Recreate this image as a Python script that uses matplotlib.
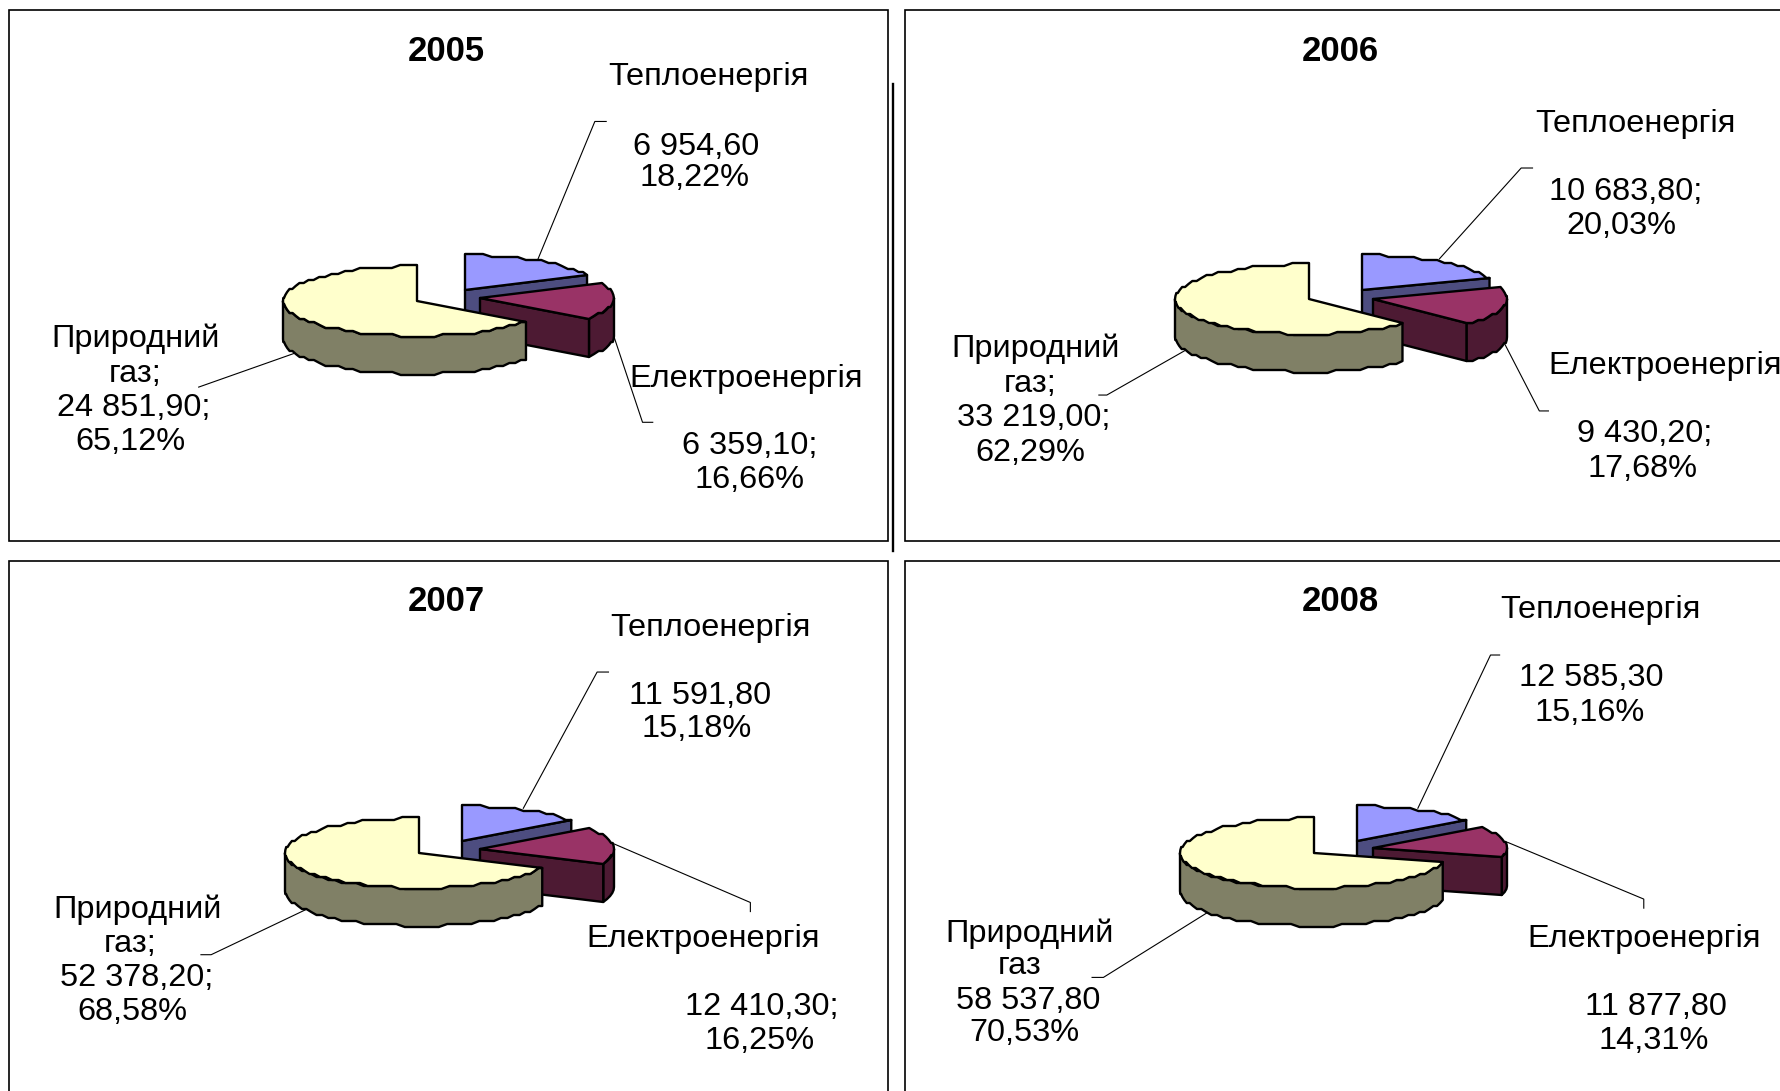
import numpy as np
import matplotlib
matplotlib.use("Agg")
import matplotlib.pyplot as plt
from matplotlib.patches import Polygon, Rectangle

plt.rcParams['font.family'] = ['Liberation Sans', 'DejaVu Sans']

years = ["2005", "2006", "2007", "2008"]
heat_values = [6954.60, 10683.80, 11591.80, 12585.30]
elec_values = [6359.10, 9430.20, 12410.30, 11877.80]
gas_values = [24851.90, 33219.00, 52378.20, 58537.80]

heat_name = "Теплоенергія"
elec_name = "Електроенергія"

heat_labels = [["6 954,60", "18,22%"], ["10 683,80;", "20,03%"], ["11 591,80", "15,18%"], ["12 585,30", "15,16%"]]
elec_labels = [["6 359,10;", "16,66%"], ["9 430,20;", "17,68%"], ["12 410,30;", "16,25%"], ["11 877,80", "14,31%"]]
gas_labels = [["Природний", "газ;", "24 851,90;", "65,12%"],
              ["Природний", "газ;", "33 219,00;", "62,29%"],
              ["Природний", "газ;", "52 378,20;", "68,58%"],
              ["Природний", "газ", "58 537,80", "70,53%"]]

# colours: (top, side)
heat_col = ("#9999FF", "#4D4D80")
elec_col = ("#993366", "#4D1A33")
gas_col = ("#FFFFCC", "#808066")

W, H = 1780, 1091
R_X, R_Y, DEPTH = 134, 35, 38

# apex of each slice per panel, px in the full image
gas_apex = [(417, 301), (1309, 299), (419, 853), (1314, 853)]
heat_apex = [(465, 290), (1362, 290), (462, 841), (1357, 841)]
elec_apex = [(480, 298), (1373, 299), (480, 849), (1373, 848)]

# text and leader positions were read on the 1568 wide view
K = W / 1568
title_pos = [(393, 43), (1181, 43), (393, 528), (1181, 528)]
heat_name_pos = [(624, 66), (1441, 107), (626, 551), (1410, 535)]
elec_name_pos = [(657, 332), (1467, 320), (619, 825), (1448, 825)]
heat_text_pos = [[(613, 127), (612, 155)], [(1432, 167), (1428, 197)], [(617, 611), (614, 640)], [(1402, 595), (1400, 626)]]
elec_text_pos = [[(660, 391), (660, 421)], [(1449, 380), (1447, 411)], [(671, 885), (669, 915)], [(1459, 885), (1457, 915)]]
gas_text_pos = [[(119, 296), (119, 327), (118, 357), (115, 387)],
                [(912, 305), (907, 336), (911, 366), (908, 397)],
                [(121, 799), (115, 829), (120, 859), (117, 889)],
                [(907, 820), (898, 849), (906, 880), (902, 908)]]
heat_leaders = [[(474, 228), (524, 107), (534, 107)], [(1268, 228), (1340, 148), (1350, 148)],
                [(461, 712), (526, 592), (536, 592)], [(1249, 712), (1313, 577), (1321, 577)]]
elec_leaders = [[(541, 297), (566, 372), (575, 372)], [(1325, 302), (1356, 362), (1364, 362)],
                [(540, 743), (661, 795), (661, 803)], [(1328, 742), (1448, 792), (1448, 800)]]
gas_leaders = [[(175, 341), (260, 311)], [(968, 348), (975, 348), (1047, 307)],
               [(177, 841), (186, 841), (270, 801)], [(962, 861), (972, 861), (1065, 803)]]

FS = 23.4
TITLE_FS = 25
TEXT_DY = 2.5  # px, text sat a bit high
EDGE = 1.7


def arc(cx, cy, a0, a1, step=3.0):
    # scalloped ellipse edge, angles clockwise from 12 o'clock
    n = max(int(abs(a1 - a0) / 3.5), 2)
    t = np.radians(np.linspace(a0, a1, n))
    x = cx + R_X * np.sin(t)
    y = np.round(-R_Y * np.cos(t) / step) * step + cy
    return np.column_stack([x, y])


def face(ax, pts, col):
    ax.add_patch(Polygon(pts, closed=True, facecolor=col, edgecolor="black", lw=EDGE, joinstyle="round"))


def extrude(pts):
    return np.vstack([pts, (pts + [0, DEPTH])[::-1]])


def draw_pie(ax, i):
    total = heat_values[i] + elec_values[i] + gas_values[i]
    a1 = 360 * heat_values[i] / total
    a2 = a1 + 360 * elec_values[i] / total

    # heat slice, only its cut face shows
    cx, cy = heat_apex[i]
    outer = arc(cx, cy, 0, a1)
    face(ax, extrude(np.array([[cx, cy], outer[-1]])), heat_col[1])
    face(ax, np.vstack([[cx, cy], outer]), heat_col[0])

    # electricity slice
    cx, cy = elec_apex[i]
    outer = arc(cx, cy, a1, a2)
    face(ax, extrude(arc(cx, cy, max(a1, 90), a2)), elec_col[1])
    face(ax, extrude(np.array([[cx, cy], outer[-1]])), elec_col[1])
    face(ax, np.vstack([[cx, cy], outer]), elec_col[0])

    # gas slice on top of the others
    cx, cy = gas_apex[i]
    face(ax, extrude(arc(cx, cy, a2, 270)), gas_col[1])
    face(ax, np.vstack([[cx, cy], arc(cx, cy, a2, 360)]), gas_col[0])


def leader(ax, pts):
    p = np.array(pts) * K
    ax.plot(p[:, 0], p[:, 1], color="black", lw=0.8, zorder=1)


def label(ax, pos, txt, size=FS, **kw):
    ax.text(pos[0] * K, pos[1] * K + TEXT_DY, txt, ha="center", va="center", fontsize=size, color="black", **kw)


fig = plt.figure(figsize=(W / 100, H / 100), dpi=100)
ax = fig.add_axes([0, 0, 1, 1])
ax.set_xlim(0, W)
ax.set_ylim(H, 0)
ax.axis("off")

# panel frames
for x0, x1 in [(9, 888), (905, 1790)]:
    for y0, y1 in [(10, 541), (561, 1100)]:
        ax.add_patch(Rectangle((x0, y0), x1 - x0, y1 - y0, facecolor="white", edgecolor="black", lw=1.2))
ax.plot([893, 893], [84, 551], color="black", lw=1.7)

for i in range(len(years)):
    leader(ax, heat_leaders[i])
    leader(ax, elec_leaders[i])
    leader(ax, gas_leaders[i])
    draw_pie(ax, i)
    label(ax, title_pos[i], years[i], size=TITLE_FS, fontweight="bold")
    label(ax, heat_name_pos[i], heat_name)
    label(ax, elec_name_pos[i], elec_name)
    for pos, txt in zip(heat_text_pos[i], heat_labels[i]):
        label(ax, pos, txt)
    for pos, txt in zip(elec_text_pos[i], elec_labels[i]):
        label(ax, pos, txt)
    for pos, txt in zip(gas_text_pos[i], gas_labels[i]):
        label(ax, pos, txt)

fig.savefig("out.png", dpi=100)
